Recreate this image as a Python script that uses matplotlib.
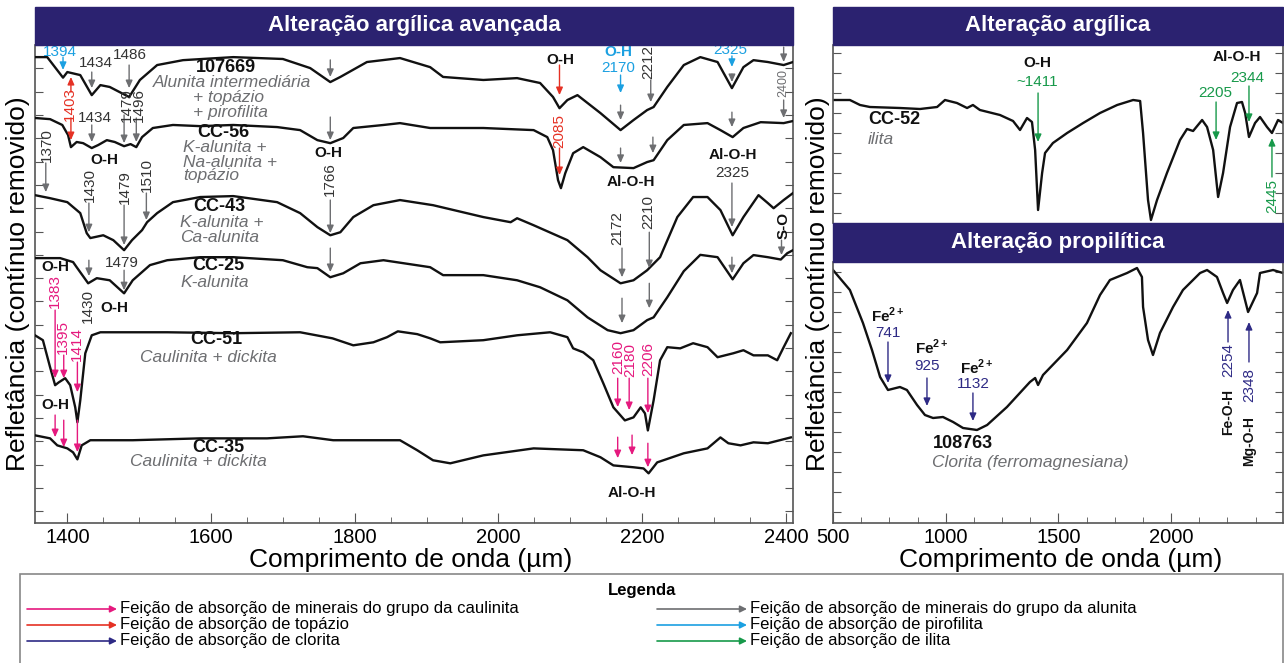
import matplotlib
matplotlib.use("Agg")
import matplotlib.pyplot as plt
from matplotlib.patches import Rectangle, FancyArrowPatch
from matplotlib.ticker import MultipleLocator, NullFormatter

plt.rcParams['font.family'] = ['Liberation Sans', 'DejaVu Sans']
plt.rcParams['mathtext.fontset'] = 'custom'
plt.rcParams['mathtext.rm'] = 'Liberation Sans'
plt.rcParams['mathtext.bf'] = 'Liberation Sans:bold'

# ---------------- dados ----------------
# alteração argílica avançada (reflectância deslocada, unidades arbitrárias)
wl_107669 = [1355, 1372, 1394, 1400, 1418, 1434, 1446, 1459, 1486, 1501, 1525, 1561, 1631, 1700, 1738,
             1766, 1780, 1817, 1863, 1905, 1923, 1979, 2026, 2058, 2076, 2085, 2096, 2110, 2142, 2170,
             2188, 2207, 2216, 2235, 2258, 2281, 2305, 2325, 2341, 2355, 2375, 2397, 2410]
r_107669 = [19.48, 19.48, 18.60, 18.84, 18.71, 17.85, 18.28, 18.20, 17.77, 18.50, 19.14, 19.35, 19.48, 19.40, 19.01,
            18.41, 18.63, 19.27, 19.44, 19.05, 18.63, 18.50, 18.58, 18.37, 17.77, 17.29, 17.64, 17.85, 17.08, 16.35,
            16.78, 17.21, 17.34, 18.20, 19.14, 19.48, 19.27, 18.15, 19.05, 19.35, 19.27, 19.14, 19.27]

wl_cc56 = [1355, 1376, 1393, 1401, 1405, 1413, 1422, 1434, 1443, 1455, 1466, 1479, 1488, 1496, 1504, 1519,
           1547, 1585, 1631, 1692, 1724, 1748, 1766, 1784, 1798, 1840, 1863, 1905, 1979, 2049, 2068,
           2076, 2083, 2087, 2093, 2104, 2118, 2142, 2160, 2188, 2207, 2216, 2235, 2258, 2291, 2309,
           2326, 2341, 2365, 2397, 2410]
r_cc56 = [16.87, 16.82, 16.57, 16.14, 15.62, 15.84, 15.79, 15.58, 15.71, 15.92, 15.84, 15.66, 15.75, 15.62, 16.05, 16.44,
          16.57, 16.52, 16.57, 16.48, 16.35, 15.92, 15.79, 16.01, 16.44, 16.57, 16.65, 16.44, 16.44, 16.35, 16.05,
          15.49, 14.20, 13.86, 14.50, 15.36, 15.62, 15.19, 14.76, 14.72, 14.98, 15.06, 15.92, 16.57, 16.65, 16.35,
          16.05, 16.44, 16.69, 16.65, 16.74]

wl_cc43 = [1355, 1376, 1400, 1418, 1427, 1432, 1450, 1464, 1479, 1490, 1504, 1511, 1525, 1547, 1585,
           1631, 1692, 1724, 1748, 1766, 1780, 1798, 1826, 1863, 1909, 1979, 2017, 2026, 2049, 2096,
           2124, 2142, 2170, 2188, 2207, 2225, 2249, 2271, 2291, 2309, 2326, 2341, 2362, 2375, 2383,
           2397, 2410]
r_cc43 = [13.56, 13.43, 13.26, 12.79, 11.93, 11.72, 11.84, 11.63, 11.20, 11.63, 12.06, 12.40, 12.79, 13.26, 13.48,
          13.52, 13.26, 12.79, 12.19, 11.84, 11.97, 12.62, 13.13, 13.35, 13.13, 12.62, 12.40, 12.57, 12.27, 11.63,
          10.90, 10.34, 9.78, 9.91, 10.34, 10.90, 12.62, 13.48, 13.48, 12.92, 11.84, 12.62, 13.56, 13.22, 13.00,
          13.35, 13.65]

wl_cc25 = [1355, 1390, 1408, 1413, 1429, 1441, 1459, 1479, 1491, 1515, 1539, 1585, 1631, 1700, 1734,
           1748, 1766, 1784, 1808, 1840, 1905, 1923, 1979, 2026, 2058, 2096, 2124, 2152, 2170, 2188,
           2207, 2216, 2235, 2258, 2281, 2305, 2326, 2341, 2355, 2375, 2393, 2402, 2410]
r_cc25 = [10.86, 10.86, 10.69, 10.47, 9.78, 10.00, 9.91, 9.35, 9.91, 10.56, 10.77, 10.90, 10.90, 10.77, 10.47,
          10.43, 10.04, 10.21, 10.64, 10.77, 10.47, 10.13, 10.13, 9.91, 9.61, 9.05, 8.32, 7.77, 7.64, 7.77,
          8.20, 8.32, 9.18, 10.30, 11.00, 10.90, 9.95, 10.64, 10.99, 10.90, 10.80, 11.07, 11.20]

wl_cc51 = [1355, 1366, 1376, 1383, 1388, 1397, 1404, 1411, 1414, 1418, 1425, 1434, 1446, 1539, 1631,
           1724, 1769, 1798, 1826, 1845, 1860, 1887, 1905, 1919, 1979, 2026, 2072, 2096, 2104, 2118,
           2132, 2146, 2160, 2176, 2188, 2198, 2204, 2208, 2216, 2225, 2235, 2253, 2271, 2291, 2305,
           2327, 2341, 2355, 2375, 2388, 2397, 2407]
r_cc51 = [7.55, 7.34, 6.18, 5.41, 5.53, 5.71, 5.41, 4.46, 3.82, 4.76, 6.78, 7.55, 7.68, 7.68, 7.64,
          7.68, 7.42, 7.12, 7.25, 7.47, 7.72, 7.60, 7.42, 7.25, 7.34, 7.55, 7.68, 7.47, 6.99, 6.82,
          6.48, 5.49, 4.46, 3.90, 4.03, 4.46, 4.20, 3.47, 4.76, 6.48, 7.04, 6.99, 7.21, 7.04, 6.61,
          6.78, 6.91, 6.69, 6.69, 6.48, 7.04, 7.64]

wl_cc35 = [1355, 1376, 1386, 1400, 1408, 1414, 1420, 1432, 1491, 1585, 1678, 1728, 1770, 1863, 1887,
           1909, 1933, 1979, 2049, 2118, 2142, 2160, 2188, 2202, 2209, 2221, 2258, 2291, 2309, 2320,
           2337, 2355, 2375, 2407]
r_cc35 = [3.26, 3.13, 2.83, 2.70, 2.53, 2.23, 2.83, 3.05, 3.05, 3.13, 3.13, 3.22, 3.05, 3.05, 2.62,
          2.19, 2.06, 2.40, 2.70, 2.62, 2.32, 1.97, 1.89, 1.84, 1.63, 2.10, 2.49, 2.70, 3.17, 2.92,
          2.83, 2.96, 2.92, 3.17]

# alteração argílica (ilita)
wl_cc52 = [500, 575, 620, 664, 797, 886, 962, 997, 1050, 1095, 1121, 1152, 1241, 1299, 1330,
           1361, 1383, 1397, 1410, 1428, 1441, 1476, 1539, 1610, 1685, 1761, 1832, 1863, 1876, 1898,
           1911, 1938, 1982, 2040, 2071, 2098, 2138, 2160, 2187, 2209, 2231, 2262, 2293, 2315, 2329,
           2346, 2373, 2395, 2426, 2448, 2475, 2497]
r_cc52 = [5.65, 5.65, 5.40, 5.30, 5.25, 5.20, 5.30, 5.65, 5.50, 5.25, 5.40, 5.15, 4.90, 4.60, 4.15,
          4.75, 4.55, 3.15, 0.15, 2.00, 3.00, 3.50, 4.00, 4.50, 5.00, 5.40, 5.65, 5.60, 4.00, 0.65,
          -0.35, 0.65, 2.00, 3.65, 4.20, 4.10, 4.65, 4.30, 3.15, 0.80, 2.00, 4.30, 5.50, 5.55, 5.00,
          3.80, 4.50, 4.80, 4.30, 4.00, 4.65, 4.50]

# alteração propilítica (clorita)
wl_108763 = [500, 575, 633, 673, 709, 744, 797, 828, 873, 908, 944, 988, 1033, 1077, 1139,
             1184, 1272, 1374, 1397, 1410, 1432, 1539, 1627, 1685, 1729, 1805, 1849, 1871, 1876, 1898,
             1920, 1951, 2009, 2053, 2129, 2160, 2204, 2231, 2249, 2275, 2306, 2342, 2382, 2395, 2453,
             2497]
r_108763 = [12.10, 11.10, 9.45, 8.10, 6.75, 6.10, 6.25, 6.10, 5.35, 4.85, 4.70, 4.75, 4.50, 4.20, 4.10,
            4.35, 5.25, 6.50, 6.70, 6.35, 6.85, 8.10, 9.45, 10.85, 11.60, 11.95, 12.20, 11.75, 10.25, 8.60,
            7.85, 8.95, 10.25, 11.10, 11.95, 12.10, 11.75, 10.95, 10.45, 11.10, 11.60, 10.00, 10.95, 11.95, 12.10,
            11.95]

legend_labels = ['Feição de absorção de minerais do grupo da caulinita',
                 'Feição de absorção de topázio',
                 'Feição de absorção de clorita',
                 'Feição de absorção de minerais do grupo da alunita',
                 'Feição de absorção de pirofilita',
                 'Feição de absorção de ilita']

# ---------------- estilo ----------------
NAVY = '#2b2270'
GRAY = '#6d6e71'
PINK = '#e5197e'
RED = '#e53124'
BLUE = '#1ba0e1'
CLOR = '#2e2a85'
GREEN = '#17994a'
TXT = '#333333'
legend_colors = [PINK, RED, CLOR, GRAY, BLUE, GREEN]

W, H = 1284, 663
fig = plt.figure(figsize=(W / 100, H / 100), dpi=100)


def fbox(x0, y0, x1, y1):
    return [x0 / W, 1 - y1 / H, (x1 - x0) / W, (y1 - y0) / H]


def bar(x0, y0, x1, y1, text):
    fig.add_artist(Rectangle((x0 / W, 1 - y1 / H), (x1 - x0) / W, (y1 - y0) / H,
                             transform=fig.transFigure, color=NAVY, zorder=5))
    fig.text((x0 + x1) / 2 / W, 1 - (y0 + y1) / 2 / H, text, color='white', fontsize=16,
             fontweight='bold', ha='center', va='center', zorder=6)


def arr(ax, x, y0, y1, c, lw=1.0):
    ax.annotate('', xy=(x, y1), xytext=(x, y0),
                arrowprops=dict(arrowstyle='-|>,head_length=0.45,head_width=0.2', color=c,
                                lw=lw, shrinkA=0, shrinkB=0))


def txt(ax, x, y, s, c=TXT, size=11, rot=0, weight='normal', style='normal', ha='center'):
    ax.text(x, y, s, color=c, fontsize=size, rotation=rot, fontweight=weight,
            fontstyle=style, ha=ha, va='center')


def style_axes(ax, xmajor, xminor, show_x=True):
    ax.yaxis.set_major_locator(MultipleLocator(1))
    ax.yaxis.set_major_formatter(NullFormatter())
    ax.xaxis.set_major_locator(MultipleLocator(xmajor))
    ax.xaxis.set_minor_locator(MultipleLocator(xminor))
    ax.tick_params(axis='both', which='both', direction='in', colors='#555555',
                   labelcolor='black', labelsize=14.5, right=True, top=False)
    ax.tick_params(axis='y', which='major', length=6)
    ax.tick_params(axis='x', which='major', length=7)
    ax.tick_params(axis='x', which='minor', length=4)
    ax.spines['top'].set_visible(False)
    for s in ['left', 'right', 'bottom']:
        ax.spines[s].set_color('#555555')
        ax.spines[s].set_linewidth(1.2)
    if not show_x:
        ax.tick_params(axis='x', which='both', bottom=False, labelbottom=False)
        ax.spines['bottom'].set_visible(False)


# ---------------- painel esquerdo ----------------
axL = fig.add_axes(fbox(35, 45, 793, 523))
for w_, r_ in [(wl_107669, r_107669), (wl_cc56, r_cc56), (wl_cc43, r_cc43),
               (wl_cc25, r_cc25), (wl_cc51, r_cc51), (wl_cc35, r_cc35)]:
    axL.plot(w_, r_, color='#111111', lw=1.7, zorder=3)
axL.set_xlim(1355, 2410)
axL.set_ylim(-0.5, 20.0)
style_axes(axL, 200, 50)

# setas do grupo da alunita
for x, y0, y1 in [(1434, 18.84, 18.15), (1486, 19.14, 18.15), (1766, 19.36, 18.63), (2170, 17.42, 16.78),
                  (2212, 18.50, 17.55), (2325, 18.75, 18.41), (2397, 19.91, 19.27), (2397, 17.64, 16.87),
                  (1434, 16.57, 15.84), (1479, 17.00, 15.79), (1496, 16.87, 15.84), (1766, 16.91, 15.92),
                  (2170, 15.58, 14.94), (2215, 16.05, 15.36), (2325, 17.12, 16.48),
                  (1370, 14.94, 13.69), (1430, 13.22, 11.97), (1479, 13.13, 11.42), (1510, 13.65, 12.49),
                  (1766, 13.35, 11.93), (2172, 11.29, 10.04), (2210, 11.97, 10.43), (2325, 14.08, 12.19),
                  (2394, 11.63, 10.99),
                  (1430, 10.77, 10.09), (1479, 10.34, 9.48), (1766, 11.29, 10.26), (2172, 9.14, 8.07),
                  (2210, 9.78, 8.71), (2325, 10.90, 10.21)]:
    arr(axL, x, y0, y1, GRAY)
# topázio
for x, y0, y1 in [(2085, 19.14, 17.85), (2085, 15.58, 14.42), (1405, 17.98, 18.63), (1405, 16.87, 15.92)]:
    arr(axL, x, y0, y1, RED)
# pirofilita
for x, y0, y1 in [(1394, 19.48, 18.93), (2170, 18.71, 17.94), (2325, 19.53, 19.06)]:
    arr(axL, x, y0, y1, BLUE)
# caulinita
for x, y0, y1 in [(1383, 8.63, 5.71), (1395, 6.70, 5.71), (1414, 6.40, 5.11),
                  (2166, 5.71, 4.47), (2182, 5.71, 4.34), (2208, 5.71, 4.21),
                  (1383, 4.13, 3.18), (1395, 3.91, 2.75), (1414, 3.91, 2.54),
                  (2166, 3.18, 2.28), (2186, 3.27, 2.41), (2208, 2.92, 1.89)]:
    arr(axL, x, y0, y1, PINK)

# números
for x, y, s in [(1440, 19.23, '1434'), (1487, 19.57, '1486'), (1439, 16.87, '1434'), (1476, 10.65, '1479'),
                (2326, 14.51, '2325')]:
    txt(axL, x, y, s)
for x, y, s in [(1483, 17.42, '1479'), (1500, 17.42, '1496'), (1372, 15.71, '1370'), (1432, 13.99, '1430'),
                (1480, 13.91, '1479'), (1511, 14.42, '1510'), (1766, 14.25, '1766'), (2209, 19.27, '2212'),
                (2166, 12.15, '2172'), (2209, 12.83, '2210'), (1429, 8.80, '1430')]:
    txt(axL, x, y, s, rot=90)
txt(axL, 2397, 18.37, '2400', c=GRAY, size=9, rot=90)
txt(axL, 2085, 16.31, '2085', c=RED, rot=90)
txt(axL, 1404, 17.47, '1403', c=RED, rot=90)
txt(axL, 1390, 19.70, '1394', c=BLUE)
txt(axL, 2167, 19.72, 'O-H', c=BLUE, weight='bold')
txt(axL, 2167, 19.01, '2170', c=BLUE)
txt(axL, 2323, 19.78, '2325', c=BLUE)
for x, y, s in [(1383, 9.45, '1383'), (1394, 7.47, '1395'), (1413, 7.17, '1414'),
                (2167, 6.61, '2160'), (2184, 6.49, '2180'), (2209, 6.53, '2206')]:
    txt(axL, x, y, s, c=PINK, rot=90)
for x, y, s in [(2086, 19.36, 'O-H'), (1452, 15.07, 'O-H'), (1763, 15.37, 'O-H'), (1383, 10.48, 'O-H'),
                (1466, 8.72, 'O-H'), (1383, 4.55, 'O-H'), (2184, 14.12, 'Al-O-H'), (2326, 15.28, 'Al-O-H'),
                (2186, 0.78, 'Al-O-H')]:
    txt(axL, x, y, s, c='#111111', weight='bold')
txt(axL, 2397, 12.28, 'S-O', c='#111111', weight='bold', rot=90)

# nomes das amostras
for x, y, s, ha in [(1621, 19.05, '107669', 'center'), (1581, 16.24, 'CC-56', 'left'),
                    (1575, 13.07, 'CC-43', 'left'), (1574, 10.53, 'CC-25', 'left'),
                    (1571, 7.36, 'CC-51', 'left'), (1574, 2.73, 'CC-35', 'left')]:
    txt(axL, x, y, s, c='#111111', size=13, weight='bold', ha=ha)
for x, y, s, ha in [(1629, 18.39, 'Alunita intermediária', 'center'), (1575, 17.75, '+ topázio', 'left'),
                    (1575, 17.12, '+ pirofilita', 'left'), (1561, 15.62, 'K-alunita +', 'left'),
                    (1561, 14.98, 'Na-alunita +', 'left'), (1561, 14.40, 'topázio', 'left'),
                    (1557, 12.40, 'K-alunita +', 'left'), (1557, 11.76, 'Ca-alunita', 'left'),
                    (1558, 9.83, 'K-alunita', 'left'), (1501, 6.61, 'Caulinita + dickita', 'left'),
                    (1487, 2.15, 'Caulinita + dickita', 'left')]:
    txt(axL, x, y, s, c=GRAY, size=12.5, style='italic', ha=ha)

# ---------------- painel direito, topo ----------------
axR1 = fig.add_axes(fbox(833, 45, 1283, 223))
axR1.plot(wl_cc52, r_cc52, color='#111111', lw=1.7)
axR1.set_xlim(500, 2497)
axR1.set_ylim(-0.5, 8.4)
style_axes(axR1, 500, 125, show_x=False)
arr(axR1, 1410, 6.0, 3.55, GREEN)
arr(axR1, 2200, 5.55, 3.65, GREEN)
arr(axR1, 2346, 6.35, 4.55, GREEN)
arr(axR1, 2448, 1.8, 3.75, GREEN)
txt(axR1, 1405, 7.5, 'O-H', c='#111111', weight='bold')
txt(axR1, 1405, 6.55, '~1411', c=GREEN)
txt(axR1, 2293, 7.8, 'Al-O-H', c='#111111', weight='bold')
txt(axR1, 2338, 6.75, '2344', c=GREEN)
txt(axR1, 2196, 6.0, '2205', c=GREEN)
txt(axR1, 2448, 0.85, '2445', c=GREEN, rot=90)
txt(axR1, 655, 4.7, 'CC-52', c='#111111', size=13, weight='bold', ha='left')
txt(axR1, 655, 3.65, 'ilita', c=GRAY, size=12.5, style='italic', ha='left')

# ---------------- painel direito, base ----------------
axR2 = fig.add_axes(fbox(833, 262, 1283, 523))
axR2.plot(wl_108763, r_108763, color='#111111', lw=1.7)
axR2.set_xlim(500, 2497)
axR2.set_ylim(-0.55, 12.5)
style_axes(axR2, 500, 125)
for x, y0, y1 in [(744, 8.5, 6.45), (917, 6.7, 5.3), (1121, 5.95, 4.55), (2253, 8.5, 10.1), (2346, 7.5, 9.5)]:
    arr(axR2, x, y0, y1, CLOR)
for x, y in [(744, 9.85), (939, 8.25), (1139, 7.25)]:
    txt(axR2, x, y, r'Fe$^{\mathbf{2+}}$', c='#111111', size=11, weight='bold')
txt(axR2, 744, 8.95, '741', c=CLOR)
txt(axR2, 917, 7.3, '925', c=CLOR)
txt(axR2, 1121, 6.4, '1132', c=CLOR)
txt(axR2, 2253, 7.6, '2254', c=CLOR, rot=90)
txt(axR2, 2346, 6.35, '2348', c=CLOR, rot=90)
txt(axR2, 2253, 5.0, 'Fe-O-H', c='#111111', size=10, weight='bold', rot=90)
txt(axR2, 2346, 3.55, 'Mg-O-H', c='#111111', size=10, weight='bold', rot=90)
txt(axR2, 1077, 3.45, '108763', c='#111111', size=13, weight='bold')
txt(axR2, 939, 2.45, 'Clorita (ferromagnesiana)', c=GRAY, size=12.5, style='italic', ha='left')

# ---------------- barras de título ----------------
bar(35, 7, 793, 45, 'Alteração argílica avançada')
bar(833, 7, 1283, 45, 'Alteração argílica')
bar(833, 223, 1283, 262, 'Alteração propilítica')

# ---------------- rótulos dos eixos ----------------
for xc in [18, 818]:
    fig.text(xc / W, 1 - 284 / H, 'Refletância (contínuo removido)', rotation=90,
             ha='center', va='center', fontsize=19)
fig.text(411 / W, 1 - 560 / H, 'Comprimento de onda (µm)', ha='center', va='center', fontsize=19)
fig.text(1061 / W, 1 - 560 / H, 'Comprimento de onda (µm)', ha='center', va='center', fontsize=19)

# ---------------- legenda ----------------
fig.add_artist(Rectangle((20 / W, -0.01), (1283 - 20) / W, 0.01 + 1 - 574 / H, transform=fig.transFigure,
                         fill=False, edgecolor='#888888', lw=1.2))
fig.text(642 / W, 1 - 591 / H, 'Legenda', ha='center', va='center', fontsize=12, fontweight='bold')
rows = [609, 625, 641]
for i, (lab, col) in enumerate(zip(legend_labels, legend_colors)):
    x0, x1, xt = (27, 117, 120) if i < 3 else (657, 747, 750)
    yy = 1 - rows[i % 3] / H
    fig.add_artist(FancyArrowPatch((x0 / W, yy), (x1 / W, yy), transform=fig.transFigure,
                                   arrowstyle='-|>,head_length=4,head_width=2', color=col, lw=1.2,
                                   shrinkA=0, shrinkB=0))
    fig.text(xt / W, yy, lab, ha='left', va='center', fontsize=12)

fig.savefig('out.png', dpi=100)
